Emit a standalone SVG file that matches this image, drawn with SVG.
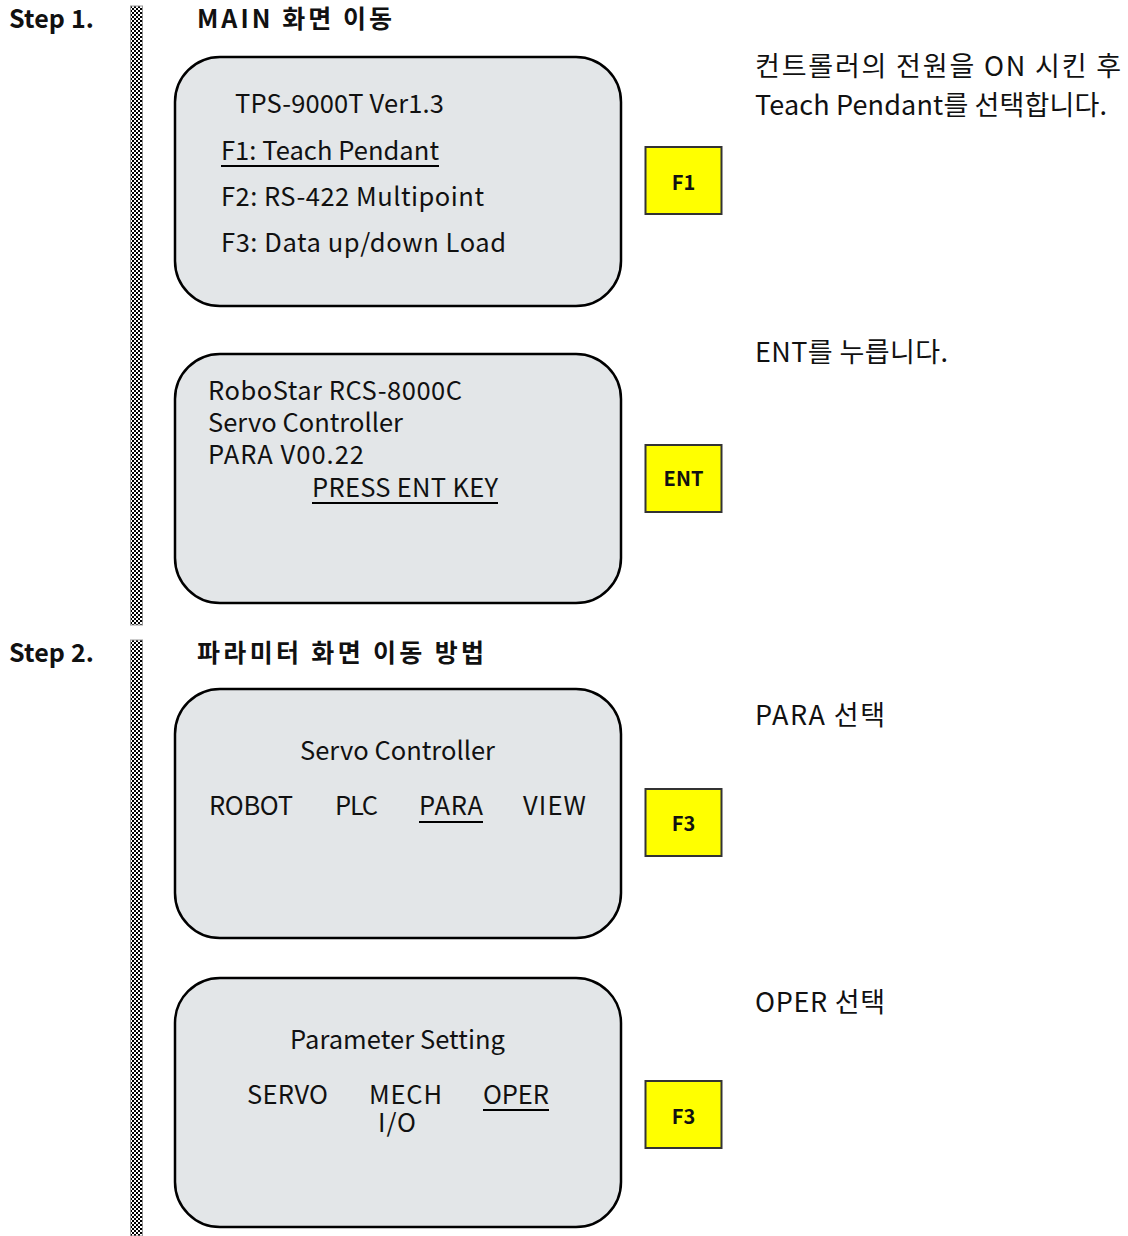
<svg xmlns="http://www.w3.org/2000/svg" width="1128" height="1236" viewBox="0 0 1128 1236">
<style>
text{font-family:"Noto Sans CJK KR","Open Sans",sans-serif;fill:#111}
.step{font-size:25px;font-weight:bold}
.lcd{fill:#e3e6e8;stroke:#000;stroke-width:2.5}
.key{fill:#ffff00;stroke:#333;stroke-width:2}
.kl{font-size:20px;font-weight:bold;text-anchor:middle}
.t{font-size:25.5px}
.note{font-size:27px}
.ul{stroke:#000;stroke-width:2}
</style>
<defs>
<pattern id="chk" width="4" height="4" patternUnits="userSpaceOnUse">
<rect width="4" height="4" fill="#fff"/>
<rect width="2" height="2" fill="#000"/>
<rect x="2" y="2" width="2" height="2" fill="#000"/>
</pattern>
</defs>
<rect width="1128" height="1236" fill="#fff"/>
<g id="bars">
<rect x="130.5" y="6" width="12" height="619" fill="url(#chk)" stroke="#999" stroke-width="1"/>
<rect x="130.5" y="640" width="12" height="596" fill="url(#chk)" stroke="#999" stroke-width="1"/>
</g>
<g id="headers">
<text class="step" x="9" y="28" textLength="85" lengthAdjust="spacing">Step 1.</text>
<text class="step" x="197" y="28" textLength="195" lengthAdjust="spacing">MAIN 화면 이동</text>
<text class="step" x="9" y="662" textLength="85" lengthAdjust="spacing">Step 2.</text>
<text class="step" x="197" y="662" textLength="287" lengthAdjust="spacing">파라미터 화면 이동 방법</text>
</g>
<g id="screen1">
<rect class="lcd" x="175" y="57" width="446" height="249" rx="45"/>
<text class="t" x="235" y="113" textLength="209" lengthAdjust="spacing">TPS-9000T Ver1.3</text>
<text class="t" x="221" y="160" textLength="218" lengthAdjust="spacing">F1: Teach Pendant</text>
<line class="ul" x1="221" y1="166" x2="439" y2="166"/>
<text class="t" x="221" y="206" textLength="263" lengthAdjust="spacing">F2: RS-422 Multipoint</text>
<text class="t" x="221" y="252" textLength="285" lengthAdjust="spacing">F3: Data up/down Load</text>
</g>
<g id="screen2">
<rect class="lcd" x="175" y="354" width="446" height="249" rx="45"/>
<text class="t" x="208" y="400" textLength="254" lengthAdjust="spacing">RoboStar RCS-8000C</text>
<text class="t" x="208" y="432" textLength="195" lengthAdjust="spacing">Servo Controller</text>
<text class="t" x="208" y="464" textLength="156" lengthAdjust="spacing">PARA V00.22</text>
<text class="t" x="312" y="497" textLength="186" lengthAdjust="spacing">PRESS ENT KEY</text>
<line class="ul" x1="312" y1="503" x2="498" y2="503"/>
</g>
<g id="screen3">
<rect class="lcd" x="175" y="689" width="446" height="249" rx="45"/>
<text class="t" x="300" y="760" textLength="195" lengthAdjust="spacing">Servo Controller</text>
<text class="t" x="209" y="815" textLength="84" lengthAdjust="spacing">ROBOT</text>
<text class="t" x="335" y="815" textLength="43" lengthAdjust="spacing">PLC</text>
<text class="t" x="419" y="815" textLength="64" lengthAdjust="spacing">PARA</text>
<line class="ul" x1="419" y1="822" x2="483" y2="822"/>
<text class="t" x="523" y="815" textLength="63" lengthAdjust="spacing">VIEW</text>
</g>
<g id="screen4">
<rect class="lcd" x="175" y="978" width="446" height="249" rx="45"/>
<text class="t" x="290" y="1049" textLength="215" lengthAdjust="spacing">Parameter Setting</text>
<text class="t" x="247" y="1104" textLength="81" lengthAdjust="spacing">SERVO</text>
<text class="t" x="369" y="1104" textLength="73" lengthAdjust="spacing">MECH</text>
<text class="t" x="378" y="1132" textLength="38" lengthAdjust="spacing">I/O</text>
<text class="t" x="483" y="1104" textLength="66" lengthAdjust="spacing">OPER</text>
<line class="ul" x1="483" y1="1110" x2="549" y2="1110"/>
</g>
<g id="key-f1">
<rect class="key" x="645.5" y="147" width="76" height="67"/>
<text class="kl" x="683.5" y="190">F1</text>
</g>
<g id="key-ent">
<rect class="key" x="645.5" y="445" width="76" height="67"/>
<text class="kl" x="683.5" y="486">ENT</text>
</g>
<g id="key-f3a">
<rect class="key" x="645.5" y="789" width="76" height="67"/>
<text class="kl" x="683.5" y="831">F3</text>
</g>
<g id="key-f3b">
<rect class="key" x="645.5" y="1081" width="76" height="67"/>
<text class="kl" x="683.5" y="1124">F3</text>
</g>
<g id="notes">
<text class="note" x="755" y="76" textLength="366" lengthAdjust="spacing">컨트롤러의 전원을 ON 시킨 후</text>
<text class="note" x="755" y="115" textLength="352" lengthAdjust="spacing">Teach Pendant를 선택합니다.</text>
<text class="note" x="755" y="362" textLength="193" lengthAdjust="spacing">ENT를 누릅니다.</text>
<text class="note" x="755" y="725" textLength="130" lengthAdjust="spacing">PARA 선택</text>
<text class="note" x="755" y="1012" textLength="130" lengthAdjust="spacing">OPER 선택</text>
</g>
<g id="connectors"></g>
</svg>
